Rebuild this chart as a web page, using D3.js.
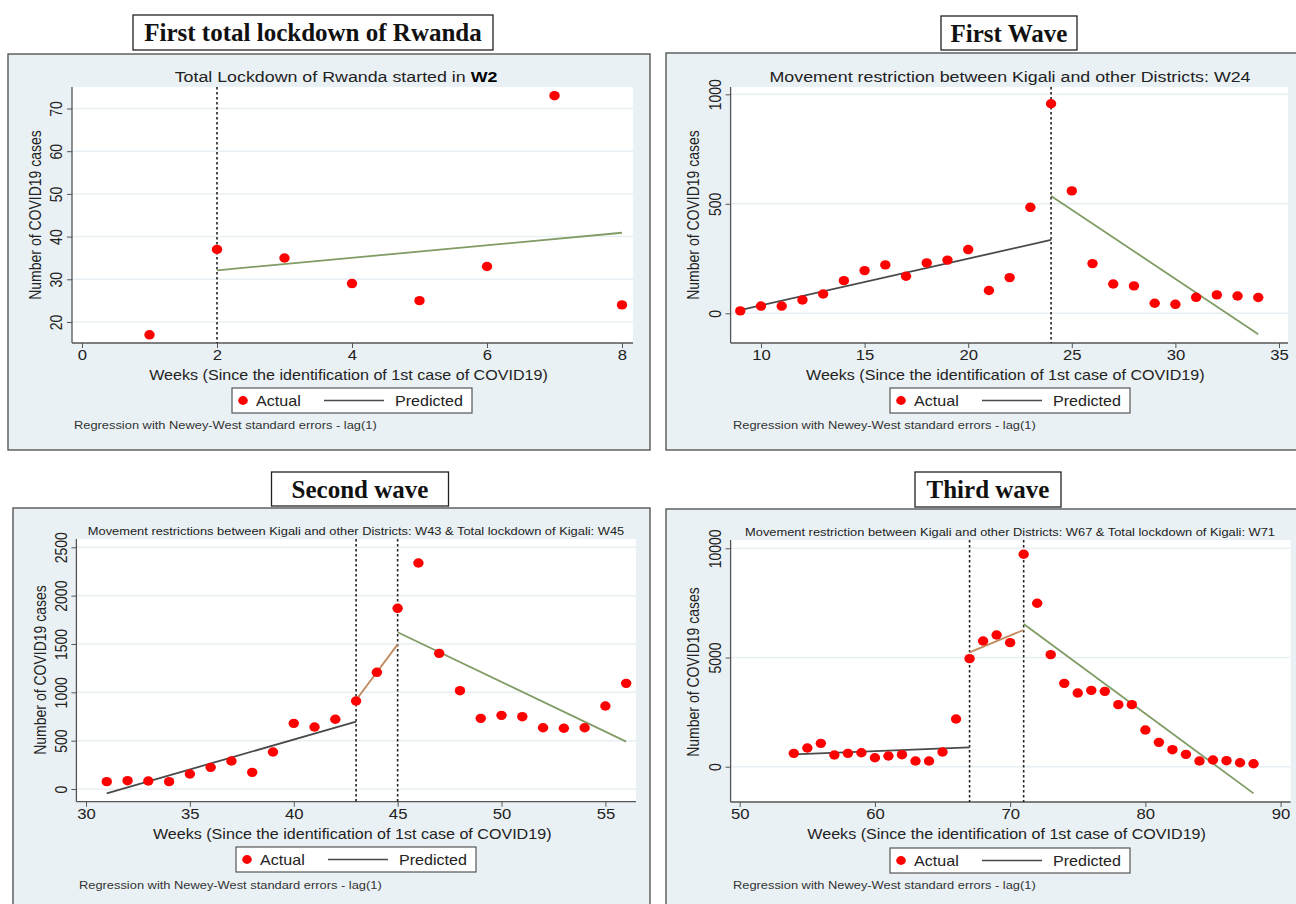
<!DOCTYPE html>
<html>
<head>
<meta charset="utf-8">
<script src="https://cdn.jsdelivr.net/npm/d3@7"></script>
<style>
  body { margin: 0; background: #fff; }
  svg { display: block; }
  text { font-family: "Liberation Sans", Arial, sans-serif; }
</style>
</head>
<body>
<svg id="chart" width="1296" height="904"></svg>
<script>
// ---- data ----

// first total lockdown of Rwanda
var weeksA = [1, 2, 3, 4, 5, 6, 7, 8];
var casesA = [17, 37, 35, 29, 25, 33, 73, 24];
var breaksA = [2];
var fitA = [
  {phase: "post", from: 2, to: 8, start: 32.1, end: 40.9}
];
var xTicksA = [0, 2, 4, 6, 8];
var yTicksA = [20, 30, 40, 50, 60, 70];

// first wave
var weeksB = [9, 10, 11, 12, 13, 14, 15, 16, 17, 18, 19, 20, 21, 22, 23, 24, 25, 26, 27, 28, 29, 30, 31, 32, 33, 34];
var casesB = [11, 33, 33, 61, 88, 149, 195, 221, 169, 230, 243, 291, 104, 163, 484, 957, 559, 227, 134, 125, 46, 41, 73, 84, 79, 72];
var breaksB = [24];
var fitB = [
  {phase: "pre", from: 9, to: 24, start: 15, end: 335},
  {phase: "post", from: 24, to: 34, start: 536, end: -96}
];
var xTicksB = [10, 15, 20, 25, 30, 35];
var yTicksB = [0, 500, 1000];

// second wave
var weeksC = [31, 32, 33, 34, 35, 36, 37, 38, 39, 40, 41, 42, 43, 44, 45, 46, 47, 48, 49, 50, 51, 52, 53, 54, 55, 56];
var casesC = [76, 86, 83, 76, 155, 224, 290, 172, 383, 679, 641, 721, 910, 1207, 1869, 2338, 1403, 1017, 731, 762, 748, 634, 628, 634, 859, 1093];
var breaksC = [43, 45];
var fitC = [
  {phase: "pre", from: 31, to: 43, start: -45, end: 697},
  {phase: "mid", from: 43, to: 45, start: 921, end: 1496},
  {phase: "post", from: 45, to: 56, start: 1621, end: 490}
];
var xTicksC = [30, 35, 40, 45, 50, 55];
var yTicksC = [0, 500, 1000, 1500, 2000, 2500];

// third wave
var weeksD = [54, 55, 56, 57, 58, 59, 60, 61, 62, 63, 64, 65, 66, 67, 68, 69, 70, 71, 72, 73, 74, 75, 76, 77, 78, 79, 80, 81, 82, 83, 84, 85, 86, 87, 88];
var casesD = [611, 855, 1069, 534, 611, 641, 412, 489, 550, 260, 260, 672, 2184, 4947, 5757, 6032, 5680, 9727, 7482, 5131, 3817, 3375, 3497, 3451, 2840, 2840, 1680, 1115, 779, 565, 260, 305, 275, 183, 137];
var breaksD = [67, 71];
var fitD = [
  {phase: "pre", from: 54, to: 67, start: 565, end: 886},
  {phase: "mid", from: 67, to: 71, start: 5238, end: 6261},
  {phase: "post", from: 71, to: 88, start: 6536, end: -1222}
];
var xTicksD = [50, 60, 70, 80, 90];
var yTicksD = [0, 5000, 10000];

var panelTitles = ["First total lockdown of Rwanda", "First Wave", "Second wave", "Third wave"];
var xTitle = "Weeks (Since the identification of 1st case of COVID19)";
var yTitle = "Number of COVID19 cases";
var noteText = "Regression with Newey-West standard errors - lag(1)";

var phaseColor = {pre: "#4a4a4a", mid: "#c1895c", post: "#819c65"};

// the source graphs were stretched sideways when pasted in, so the text is too
var SX = 1.15;

// ---- layout ----
var panels = [
  {
    weeks: weeksA, cases: casesA, breaks: breaksA, fit: fitA, xTicks: xTicksA, yTicks: yTicksA,
    title: panelTitles[0], sub: ["Total Lockdown of Rwanda started in ", "W2"], subSize: 15.5,
    frame: [8, 54, 642, 396], head: [133, 15, 360, 35],
    plot: {l: 72, r: 633, t: 87, b: 343},
    xCal: [[0, 82], [8, 622]], yCal: [[20, 322], [70, 108.5]],
    subPos: [336, 82], yTitlePos: [36, 215], legend: [232, 388], note: [74, 429]
  },
  {
    weeks: weeksB, cases: casesB, breaks: breaksB, fit: fitB, xTicks: xTicksB, yTicks: yTicksB,
    title: panelTitles[1], sub: ["Movement restriction between Kigali and other Districts: W24"], subSize: 15.5,
    frame: [666, 53, 640, 397], head: [941, 16, 136, 34],
    plot: {l: 730.6, r: 1288, t: 87, b: 343},
    xCal: [[10, 761], [35, 1279]], yCal: [[0, 313.3], [1000, 94.3]],
    subPos: [1010, 82], yTitlePos: [694, 215], legend: [890, 388], note: [733, 429]
  },
  {
    weeks: weeksC, cases: casesC, breaks: breaksC, fit: fitC, xTicks: xTicksC, yTicks: yTicksC,
    title: panelTitles[2], sub: ["Movement restrictions between Kigali and other Districts: W43 & Total lockdown of Kigali: W45"], subSize: 11.2,
    frame: [13, 508, 637, 400], head: [271.5, 472, 177, 34],
    plot: {l: 76.4, r: 636, t: 539, b: 801.7},
    xCal: [[30, 86], [55, 605.4]], yCal: [[0, 789], [2500, 547.3]],
    subPos: [356, 535], yTitlePos: [41, 670], legend: [236, 847], note: [79, 889]
  },
  {
    weeks: weeksD, cases: casesD, breaks: breaksD, fit: fitD, xTicks: xTicksD, yTicks: yTicksD,
    title: panelTitles[3], sub: ["Movement restriction between Kigali and other Districts: W67 & Total lockdown of Kigali: W71"], subSize: 11.2,
    frame: [666, 509, 640, 400], head: [915, 472, 146, 35],
    plot: {l: 730.6, r: 1290.6, t: 540, b: 802},
    xCal: [[50, 739.7], [90, 1280.6]], yCal: [[0, 766.7], [10000, 548.3]],
    subPos: [1010, 536], yTitlePos: [694, 672], legend: [890, 848], note: [733, 889]
  }
];

var svg = d3.select("#chart");

panels.forEach(drawPanel);

// place a horizontally stretched text at (x, y)
function wideText(parent, x, y) {
  return parent.append("text")
    .attr("transform", `translate(${x},${y}) scale(${SX},1)`);
}

function drawPanel(p) {
  var g = svg.append("g");

  // outer frame (light blue-grey Stata background)
  g.append("rect")
    .attr("x", p.frame[0]).attr("y", p.frame[1])
    .attr("width", p.frame[2]).attr("height", p.frame[3])
    .attr("fill", "#eaf1f5")
    .attr("stroke", "#4a4a4a")
    .attr("stroke-width", 1.3);

  // heading box above the panel
  g.append("rect")
    .attr("x", p.head[0]).attr("y", p.head[1])
    .attr("width", p.head[2]).attr("height", p.head[3])
    .attr("fill", "#fff")
    .attr("stroke", "#222")
    .attr("stroke-width", 1.3);

  g.append("text")
    .attr("x", p.head[0] + p.head[2] / 2)
    .attr("y", p.head[1] + p.head[3] / 2 + 8.5)
    .attr("text-anchor", "middle")
    .style("font-family", "'Liberation Serif', 'DejaVu Serif', serif")
    .style("font-weight", "bold")
    .style("font-size", "25px")
    .attr("fill", "#111")
    .text(p.title);

  var x = d3.scaleLinear()
    .domain([p.xCal[0][0], p.xCal[1][0]])
    .range([p.xCal[0][1], p.xCal[1][1]]);

  var y = d3.scaleLinear()
    .domain([p.yCal[0][0], p.yCal[1][0]])
    .range([p.yCal[0][1], p.yCal[1][1]]);

  // plot region
  g.append("rect")
    .attr("x", p.plot.l).attr("y", p.plot.t)
    .attr("width", p.plot.r - p.plot.l)
    .attr("height", p.plot.b - p.plot.t)
    .attr("fill", "#fff");

  g.selectAll(".grid")
    .data(p.yTicks)
    .enter()
    .append("line")
      .attr("class", "grid")
      .attr("x1", p.plot.l)
      .attr("x2", p.plot.r)
      .attr("y1", d => y(d))
      .attr("y2", d => y(d))
      .attr("stroke", "#e8eff3")
      .attr("stroke-width", 1.5);

  // subtitle
  var sub = wideText(g, p.subPos[0], p.subPos[1])
    .attr("text-anchor", "middle")
    .style("font-size", p.subSize + "px")
    .attr("fill", "#222");
  sub.append("tspan").text(p.sub[0]);
  if (p.sub[1]) {
    sub.append("tspan").style("font-weight", "bold").attr("fill", "#000").text(p.sub[1]);
  }

  // axes
  var xAxis = d3.axisBottom(x)
    .tickValues(p.xTicks)
    .tickFormat(d3.format("d"))
    .tickSize(5)
    .tickSizeOuter(0);

  var xg = g.append("g")
    .attr("transform", `translate(0,${p.plot.b})`)
    .call(xAxis);
  // stretch the axis line across the whole plot region
  xg.select(".domain")
    .attr("d", `M${p.plot.l},0H${p.plot.r}`)
    .attr("stroke", "#555")
    .attr("stroke-width", 1.3);
  xg.selectAll(".tick line").attr("stroke", "#555");
  xg.selectAll(".tick text")
    .attr("transform", `scale(${SX},1)`)
    .attr("y", 7)
    .attr("fill", "#222")
    .style("font-size", "14.5px")
    .style("font-family", "'Liberation Sans', Arial, sans-serif");

  var yAxis = d3.axisLeft(y)
    .tickValues(p.yTicks)
    .tickFormat(d3.format("d"))
    .tickSize(5)
    .tickSizeOuter(0);

  var yg = g.append("g")
    .attr("transform", `translate(${p.plot.l},0)`)
    .call(yAxis);
  yg.select(".domain")
    .attr("d", `M0,${p.plot.t}V${p.plot.b}`)
    .attr("stroke", "#555")
    .attr("stroke-width", 1.3);
  yg.selectAll(".tick line").attr("stroke", "#555");
  yg.selectAll(".tick text")
    .attr("transform", `scale(${SX},1) rotate(-90)`)
    .attr("x", 0)
    .attr("y", -8.5)
    .attr("dy", 0)
    .attr("text-anchor", "middle")
    .attr("fill", "#222")
    .style("font-size", "14px")
    .style("font-family", "'Liberation Sans', Arial, sans-serif");

  // intervention week markers
  g.selectAll(".break")
    .data(p.breaks)
    .enter()
    .append("line")
      .attr("class", "break")
      .attr("x1", d => x(d))
      .attr("x2", d => x(d))
      .attr("y1", p.plot.t)
      .attr("y2", p.plot.b)
      .attr("stroke", "#222")
      .attr("stroke-width", 1.6)
      .attr("stroke-dasharray", "2.5,2.5");

  // fitted segments
  g.selectAll(".fit")
    .data(p.fit)
    .enter()
    .append("line")
      .attr("class", "fit")
      .attr("x1", d => x(d.from))
      .attr("x2", d => x(d.to))
      .attr("y1", d => y(d.start))
      .attr("y2", d => y(d.end))
      .attr("stroke", d => phaseColor[d.phase])
      .attr("stroke-width", 1.8);

  // actual weekly cases
  g.selectAll(".pt")
    .data(p.weeks)
    .enter()
    .append("ellipse")
      .attr("class", "pt")
      .attr("cx", d => x(d))
      .attr("cy", (d, i) => y(p.cases[i]))
      .attr("rx", 5.2)
      .attr("ry", 4.7)
      .attr("fill", "#ff0000");

  // axis titles
  wideText(g, (p.plot.l + p.plot.r) / 2 - 4, p.plot.b + 37)
    .attr("text-anchor", "middle")
    .style("font-size", "14px")
    .attr("fill", "#222")
    .text(xTitle);

  g.append("text")
    .attr("transform", `translate(${p.yTitlePos[0] + 5},${p.yTitlePos[1]}) scale(${SX},1) rotate(-90)`)
    .attr("text-anchor", "middle")
    .style("font-size", "14px")
    .attr("fill", "#222")
    .text(yTitle);

  // legend
  var lg = g.append("g").attr("transform", `translate(${p.legend[0]},${p.legend[1]})`);
  lg.append("rect")
    .attr("width", 240).attr("height", 25)
    .attr("fill", "#fff")
    .attr("stroke", "#555")
    .attr("stroke-width", 1.2);
  lg.append("ellipse")
    .attr("cx", 11).attr("cy", 12.5).attr("rx", 4.8).attr("ry", 4.4)
    .attr("fill", "#ff0000");
  wideText(lg, 24, 18)
    .style("font-size", "14px")
    .attr("fill", "#222")
    .text("Actual");
  lg.append("line")
    .attr("x1", 92).attr("x2", 152)
    .attr("y1", 12.5).attr("y2", 12.5)
    .attr("stroke", "#4a4a4a")
    .attr("stroke-width", 1.6);
  wideText(lg, 163, 18)
    .style("font-size", "14px")
    .attr("fill", "#222")
    .text("Predicted");

  // note
  wideText(g, p.note[0], p.note[1])
    .style("font-size", "11.2px")
    .attr("fill", "#333")
    .text(noteText);
}
</script>
</body>
</html>
